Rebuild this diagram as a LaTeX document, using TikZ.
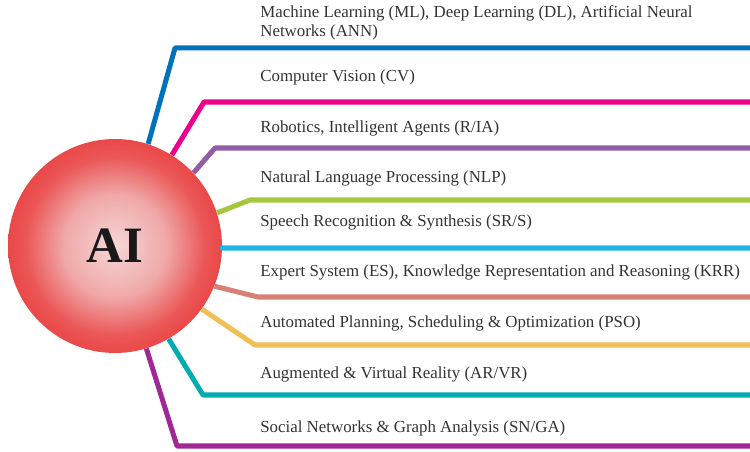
\documentclass[tikz,border=0pt]{standalone}
\usepackage{fontspec}
\setmainfont{Liberation Serif}
\usetikzlibrary{calc}

\definecolor{mlblue}{RGB}{0,114,188}
\definecolor{cvpink}{RGB}{236,0,140}
\definecolor{rapurple}{RGB}{146,92,168}
\definecolor{nlpgreen}{RGB}{166,200,62}
\definecolor{srcyan}{RGB}{30,184,226}
\definecolor{krrsalmon}{RGB}{214,128,118}
\definecolor{psoyellow}{RGB}{240,192,84}
\definecolor{arteal}{RGB}{0,172,176}
\definecolor{snmagenta}{RGB}{160,40,150}
\definecolor{ballmid}{RGB}{246,214,214}
\definecolor{ballhalf}{RGB}{240,168,168}
\definecolor{ballrim}{RGB}{234,72,72}

\pgfdeclareradialshading{aiball}{\pgfpoint{0bp}{0bp}}{%
  color(0bp)=(ballmid); color(12bp)=(ballhalf); color(21bp)=(ballrim!85!ballhalf); color(25bp)=(ballrim); color(50bp)=(ballrim)}

\tikzset{
  branch/.style={line width=2.85pt, line join=round},
  topic/.style={anchor=west, inner sep=0pt, font=\fontsize{9.6}{11}\selectfont, text=black!80},
}

\begin{document}
\begin{tikzpicture}[x=0.02cm, y=-0.02cm]
            \useasboundingbox (0,0) rectangle (750,452);
            % the AI ball
            \node[circle, minimum size=4.28cm, inner sep=0pt, shading=aiball,
                  font=\fontsize{29}{30}\selectfont\bfseries, text=black!90] (ai) at (115,246) {AI};
            % branches: angle on ball / bend x / height / colour
            \foreach \ang/\bx/\hy/\col [count=\i] in {72/175/48/mlblue, 58/204/102/cvpink, 43/215/148/rapurple,
                18/250/200/nlpgreen, -1/222/248/srcyan, -22/258/297/krrsalmon, -36/255/345/psoyellow,
                -60/203/395/arteal, -73/177/446/snmagenta}{
              \coordinate (end\i) at (750,\hy);
              \draw[branch, \col] (ai.\ang) -- (\bx,\hy) -- (end\i);
            }
            % topics
            \node[topic, align=left] (t1) at (260,23) {Machine Learning (ML), Deep Learning (DL), Artificial Neural\\Networks (ANN)};
            \node[topic] (t2) at (260,77) {Computer Vision (CV)};
            \node[topic] (t3) at (260,128) {Robotics, Intelligent Agents (R/IA)};
            \node[topic] (t4) at (260,178) {Natural Language Processing (NLP)};
            \node[topic] (t5) at (260,222) {Speech Recognition \& Synthesis (SR/S)};
            \node[topic] (t6) at (260,272) {Expert System (ES), Knowledge Representation and Reasoning (KRR)};
            \node[topic] (t7) at (260,323) {Automated Planning, Scheduling \& Optimization (PSO)};
            \node[topic] (t8) at (260,374) {Augmented \& Virtual Reality (AR/VR)};
            \node[topic] (t9) at (260,428) {Social Networks \& Graph Analysis (SN/GA)};
\end{tikzpicture}
\end{document}
